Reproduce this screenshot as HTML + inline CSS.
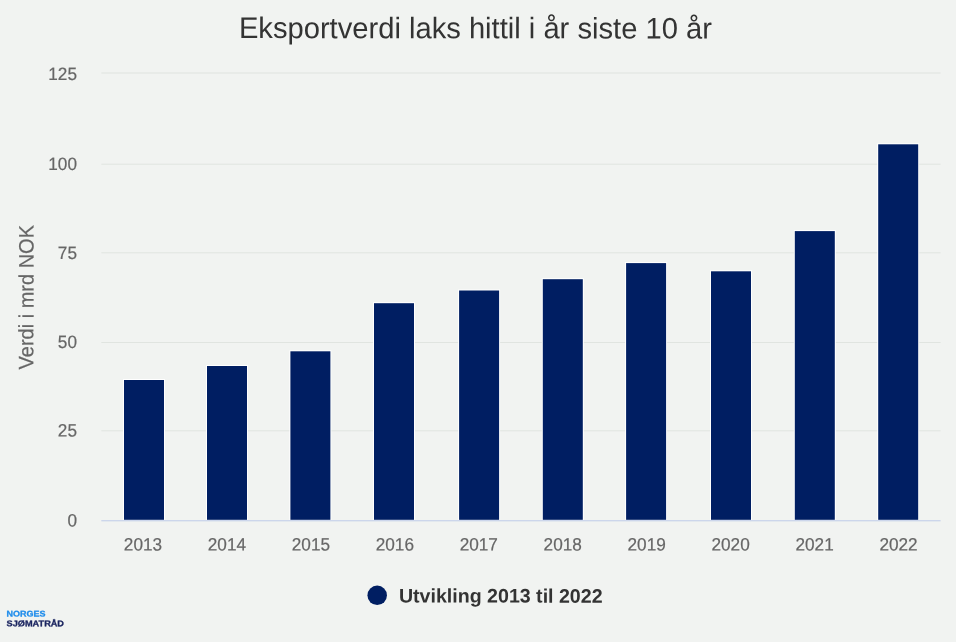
<!DOCTYPE html>
<html lang="no">
<head>
<meta charset="utf-8">
<title>Eksportverdi laks hittil i år siste 10 år</title>
<style>
html,body{margin:0;padding:0;background:#f1f3f1;}
body{width:956px;height:642px;overflow:hidden;position:relative;font-family:"Liberation Sans",Arial,sans-serif;}
svg{position:absolute;left:0;top:0;display:block;}
text{font-family:"Liberation Sans",Arial,Helvetica,sans-serif;}
.title{font-size:29.15px;fill:#333333;text-anchor:middle;}
.yl{font-size:17.2px;fill:#666666;text-anchor:end;stroke:#666666;stroke-width:0.2px;}
.xl{font-size:17.2px;fill:#666666;text-anchor:middle;stroke:#666666;stroke-width:0.2px;}
.yt{font-size:20px;fill:#666666;text-anchor:middle;stroke:#666666;stroke-width:0.2px;}
.lg{font-size:19.6px;font-weight:bold;fill:#333333;}
.grid rect{fill:#e0e4e0;}
.bw rect{fill:#ffffff;}
.bars rect{fill:#001e62;}
.logo1{font-size:8.3px;font-weight:bold;fill:#1e8ceb;stroke:#1e8ceb;stroke-width:0.3px;}
.logo2{font-size:8.3px;font-weight:bold;fill:#1b2560;stroke:#1b2560;stroke-width:0.3px;}
</style>
</head>
<body>
<svg width="956" height="642" viewBox="0 0 956 642">
<rect x="0" y="0" width="956" height="642" fill="#f1f3f1"/>
<text class="title" transform="translate(475.4,38.3) rotate(0.05) scale(1,1.02)">Eksportverdi laks hittil i år siste 10 år</text>
<g class="grid">
<rect x="101.3" y="72.5" width="839.3" height="1"/>
<rect x="101.3" y="163.7" width="839.3" height="1"/>
<rect x="101.3" y="252.3" width="839.3" height="1"/>
<rect x="101.3" y="342" width="839.3" height="1"/>
<rect x="101.3" y="430.3" width="839.3" height="1"/>
</g>
<g class="bw">
<rect x="123" y="379" width="42" height="141"/>
<rect x="206" y="365" width="42" height="155"/>
<rect x="289.4" y="350.3" width="42" height="169.7"/>
<rect x="373" y="302.2" width="42" height="217.8"/>
<rect x="458.1" y="289.5" width="42" height="230.5"/>
<rect x="541.8" y="278.2" width="42" height="241.8"/>
<rect x="625.1" y="262.1" width="42" height="257.9"/>
<rect x="710" y="270.3" width="42" height="249.7"/>
<rect x="793.8" y="230.1" width="42" height="289.9"/>
<rect x="877.2" y="143.3" width="42" height="376.7"/>
</g>
<g class="bars">
<rect x="124" y="380" width="40" height="139.8"/>
<rect x="207" y="366" width="40" height="153.8"/>
<rect x="290.4" y="351.3" width="40" height="168.5"/>
<rect x="374" y="303.2" width="40" height="216.6"/>
<rect x="459.1" y="290.5" width="40" height="229.3"/>
<rect x="542.8" y="279.2" width="40" height="240.6"/>
<rect x="626.1" y="263.1" width="40" height="256.7"/>
<rect x="711" y="271.3" width="40" height="248.5"/>
<rect x="794.8" y="231.1" width="40" height="288.7"/>
<rect x="878.2" y="144.3" width="40" height="375.5"/>
</g>
<rect x="101.3" y="520" width="839.3" height="1.4" fill="#ccd6eb"/>
<g>
<text class="yl" transform="translate(77,80) rotate(0.05) scale(1,1.04)">125</text>
<text class="yl" transform="translate(77,170) rotate(0.05) scale(1,1.04)">100</text>
<text class="yl" transform="translate(77,258.9) rotate(0.05) scale(1,1.04)">75</text>
<text class="yl" transform="translate(77,348.1) rotate(0.05) scale(1,1.04)">50</text>
<text class="yl" transform="translate(77,436.4) rotate(0.05) scale(1,1.04)">25</text>
<text class="yl" transform="translate(77,526.6) rotate(0.05) scale(1,1.04)">0</text>
</g>
<g>
<text class="xl" transform="translate(142.97,550.6) rotate(0.05) scale(1,1.04)">2013</text>
<text class="xl" transform="translate(226.93,550.6) rotate(0.05) scale(1,1.04)">2014</text>
<text class="xl" transform="translate(310.88,550.6) rotate(0.05) scale(1,1.04)">2015</text>
<text class="xl" transform="translate(394.82,550.6) rotate(0.05) scale(1,1.04)">2016</text>
<text class="xl" transform="translate(478.78,550.6) rotate(0.05) scale(1,1.04)">2017</text>
<text class="xl" transform="translate(562.73,550.6) rotate(0.05) scale(1,1.04)">2018</text>
<text class="xl" transform="translate(646.68,550.6) rotate(0.05) scale(1,1.04)">2019</text>
<text class="xl" transform="translate(730.62,550.6) rotate(0.05) scale(1,1.04)">2020</text>
<text class="xl" transform="translate(814.58,550.6) rotate(0.05) scale(1,1.04)">2021</text>
<text class="xl" transform="translate(898.52,550.6) rotate(0.05) scale(1,1.04)">2022</text>
</g>
<text class="yt" transform="translate(33.4,297.2) rotate(-89.95) scale(1,1.04)">Verdi i mrd NOK</text>
<circle cx="377.2" cy="595.3" r="9.75" fill="#001e62"/>
<text class="lg" transform="translate(398.9,602.5) rotate(0.05)">Utvikling 2013 til 2022</text>
<text class="logo1" transform="translate(6.6,616.45) rotate(0.05)" textLength="39" lengthAdjust="spacingAndGlyphs">NORGES</text>
<text class="logo2" transform="translate(6.6,626.25) rotate(0.05)" textLength="57.4" lengthAdjust="spacingAndGlyphs">SJØMATRÅD</text>
</svg>
</body>
</html>
